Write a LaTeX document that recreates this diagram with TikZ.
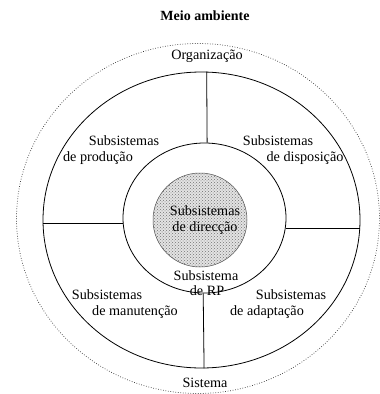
\documentclass[tikz,border=0pt]{standalone}
\usepackage{fontspec}
\setmainfont{Liberation Serif}
\usetikzlibrary{shapes.geometric,patterns}
\begin{document}
\begin{tikzpicture}[x=1pt,y=-1pt,
  lbl/.style={font=\fontsize{14.2}{16}\selectfont, inner sep=0pt},
  ring/.style={ellipse, draw, line width=0.8pt, inner sep=0pt},
  spoke/.style={line width=0.8pt},
]
\useasboundingbox (0,0) rectangle (380,394);
% rings
\node[ellipse, draw=black!80, line width=0.7pt, dash pattern=on 0.7pt off 1.8pt,
      minimum width=363pt, minimum height=350pt, inner sep=0pt] (env) at (198,218.5) {};
\node[ring, minimum width=317pt, minimum height=296pt] (org) at (201.5,220) {};
\node[ring, minimum width=163pt, minimum height=150pt] (rp) at (204.5,218) {};
\node[circle, draw=black!70, line width=0.5pt, fill=gray!22,
      postaction={pattern=crosshatch dots, pattern color=black!55},
      minimum size=94pt, inner sep=0pt] (dir) at (200,220) {};
% spokes
\draw[spoke] (org.88) -- (rp.88);
\draw[spoke] (rp.269) -- (org.271);
\draw[spoke] (rp.184) -- (rp.184 -| org.west);
\draw[spoke] (rp.353) -- (rp.353 -| org.east);
% labels
\node[lbl, font=\fontsize{14}{16}\selectfont\bfseries] (meio) at (205,16) {Meio ambiente};
\node[lbl] (orgl) at (207,56) {Organização};
\node[lbl] (prodA) at (124,141) {Subsistemas};
\node[lbl] (prodB) at (98,158) {de produção};
\node[lbl] (dispA) at (278,141) {Subsistemas};
\node[lbl] (dispB) at (305,158) {de disposição};
\node[lbl] (dirA) at (205,211) {Subsistemas};
\node[lbl] (dirB) at (205,228) {de direcção};
\node[lbl] (rpA) at (206,276) {Subsistema};
\node[lbl] (rpB) at (207,291) {de RP};
\node[lbl] (manA) at (107,295) {Subsistemas};
\node[lbl] (manB) at (135,312) {de manutenção};
\node[lbl] (adA) at (291,295) {Subsistemas};
\node[lbl] (adB) at (267,312) {de adaptação};
\node[lbl] (sist) at (205,383) {Sistema};
\end{tikzpicture}
\end{document}
